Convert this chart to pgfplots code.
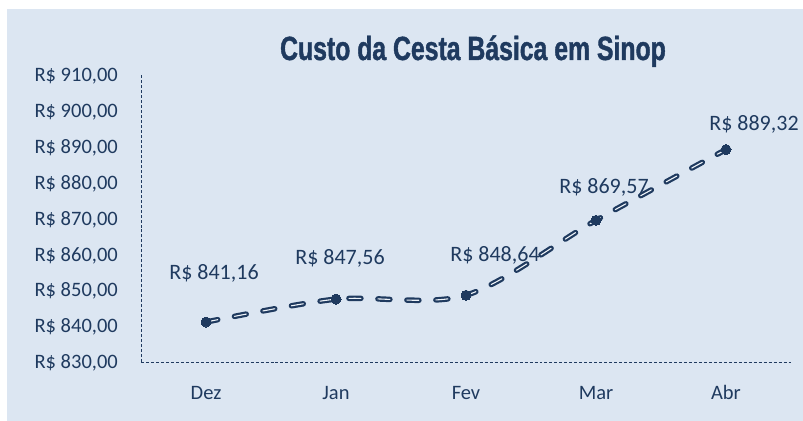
\documentclass[border=0pt]{standalone}
\usepackage{pgfplots}
\pgfplotsset{compat=1.18}
\usepackage{fontspec}
\setmainfont{Carlito}
\newfontfamily\titlefont[FakeStretch=0.74,FakeBold=1.2]{Liberation Sans}
\definecolor{bg}{HTML}{DCE6F2}
\definecolor{dk}{HTML}{1F3A5F}
\begin{document}
\begin{tikzpicture}
\path[use as bounding box] (0,0) rectangle (803bp,421bp);
\fill[white] (0,0) rectangle (803bp,421bp);
\fill[bg] (7bp,0) rectangle (803bp,412bp);
\node[anchor=base, text=dk, inner sep=0pt, font=\titlefont\bfseries\fontsize{33.5bp}{36bp}\selectfont] at (473bp,361bp) {Custo da Cesta Básica em Sinop};
\begin{axis}[
  at={(141bp,59bp)}, anchor=south west,
  scale only axis, width=650bp, height=286.5bp,
  xmin=-0.5, xmax=4.5, ymin=830, ymax=910,
  clip=false,
  axis x line*=bottom, axis y line*=left,
  axis line style={dk, densely dashed, line width=0.8bp, -},
  major tick length=0pt,
  xtick={0,1,2,3,4},
  xticklabels={Dez,Jan,Fev,Mar,Abr},
  ytick={830,840,850,860,870,880,890,900,910},
  yticklabels={{R\$ 830,00},{R\$ 840,00},{R\$ 850,00},{R\$ 860,00},{R\$ 870,00},{R\$ 880,00},{R\$ 890,00},{R\$ 900,00},{R\$ 910,00}},
  xticklabel style={anchor=base, inner sep=0pt, yshift=-37bp, text=dk, font=\fontsize{20.5bp}{24bp}\selectfont},
  yticklabel style={anchor=base east, inner sep=0pt, xshift=-23bp, yshift=-6.5bp, text=dk, font=\fontsize{20.5bp}{24bp}\selectfont},
]
\addplot[dk, line width=2.2bp, double=white!55!bg, double distance=1.1bp,
  dash pattern=on 12bp off 17bp, line cap=round, smooth, tension=0.5]
  table[x=x, y=y] {
x y
0 841.16
1 847.56
2 848.64
3 869.57
4 889.32
};
\addplot[only marks, mark=*, mark size=5bp, mark options={draw=dk, fill=dk, line width=0pt, solid},
  point meta=y,
  visualization depends on={\thisrow{dx}\as\dx},
  visualization depends on={\thisrow{dy}\as\dy},
  nodes near coords={R\$ \pgfmathprintnumber[fixed,fixed zerofill,precision=2,use comma,assume math mode=true]{\pgfplotspointmeta}},
  every node near coord/.append style={anchor=base, inner sep=0pt, xshift=\dx bp, yshift=\dy bp, text=dk, font=\fontsize{22bp}{26bp}\selectfont},
  ]
  table[x=x, y=y] {
x y dx dy
0 841.16 8 43
1 847.56 4 35
2 848.64 29 34
3 869.57 8 27
4 889.32 28 19
};
\end{axis}
\end{tikzpicture}
\end{document}
